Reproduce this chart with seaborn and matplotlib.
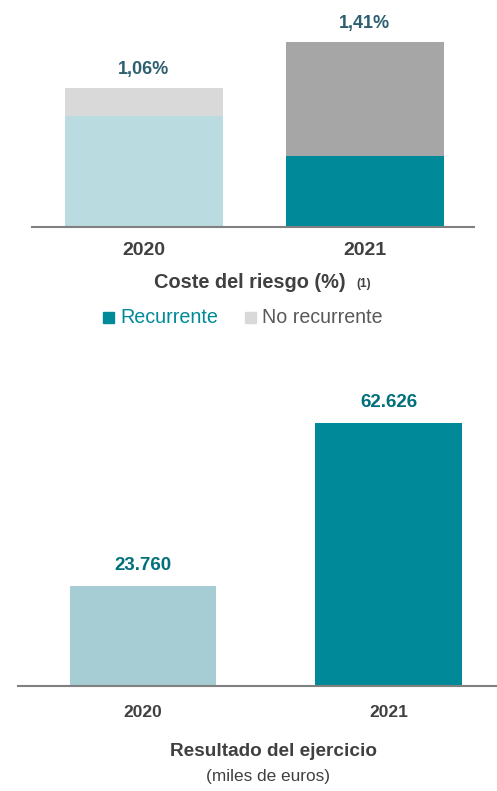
import numpy as np
import pandas as pd
import seaborn as sns
import matplotlib.pyplot as plt

sns.set_theme(style="white")

# data
years = ["2020", "2021"]
coste_recurrente = [0.85, 0.54]
coste_no_recurrente = [0.21, 0.87]
coste_total_labels = ["1,06%", "1,41%"]
resultado = [23760, 62626]
resultado_labels = ["23.760", "62.626"]

plt.rcParams['font.family'] = ["Liberation Sans", "DejaVu Sans"]

teal = "#008A99"
light_teal = "#BADBDF"
gray = "#A6A6A6"
light_gray = "#D9D9D9"
lab_dark = "#2C5F70"
lab_teal = "#00707C"
txt = "#404040"

W, H = 497, 791
fig = plt.figure(figsize=(W / 100, H / 100), dpi=100)

def px_axes(x0, x1, y0, y1):
    return fig.add_axes([x0 / W, 1 - y1 / H, (x1 - x0) / W, (y1 - y0) / H])

# ---- top chart: coste del riesgo
ax1 = px_axes(32, 474, 0, 227)
df1 = pd.DataFrame({"year": years,
                    "total": np.add(coste_recurrente, coste_no_recurrente),
                    "rec": coste_recurrente})
sns.barplot(data=df1, x="year", y="total", hue="year", palette=[light_gray, gray],
            width=0.715, saturation=1, legend=False, linewidth=0, ax=ax1)
sns.barplot(data=df1, x="year", y="rec", hue="year", palette=[light_teal, teal],
            width=0.715, saturation=1, legend=False, linewidth=0, ax=ax1)
ax1.set_xlim(-0.505, 1.495)
ax1.set_ylim(0, 227 / 131)
for i, t in enumerate(df1["total"]):
    ax1.annotate(coste_total_labels[i], (i, t), xytext=(0, 13.5), textcoords="offset points",
                 ha="center", va="center", color=lab_dark, fontsize=13, fontweight="bold")
ax1.set_yticks([])
ax1.set_xlabel("")
ax1.set_ylabel("")
ax1.set_xticks([0, 1])
ax1.set_xticklabels(years, fontsize=14, fontweight="bold", color=txt)
ax1.tick_params(axis="x", length=0, pad=11)
for s in ["top", "left", "right"]:
    ax1.spines[s].set_visible(False)
ax1.spines["bottom"].set_color("#808080")
ax1.spines["bottom"].set_linewidth(1.5)

fig.text(250 / W, 1 - 282 / H, "Coste del riesgo (%)", ha="center", va="center",
         fontsize=14.4, fontweight="bold", color=txt)
fig.text(364 / W, 1 - 284 / H, "(1)", ha="center", va="center",
         fontsize=8.5, fontweight="bold", color=txt)

# legend
fig.patches.append(plt.Rectangle((103 / W, 1 - 323 / H), 11 / W, 11 / H,
                                 transform=fig.transFigure, color=teal, figure=fig))
fig.text(120 / W, 1 - 317 / H, "Recurrente", ha="left", va="center",
         fontsize=14.2, color=teal)
fig.patches.append(plt.Rectangle((245 / W, 1 - 323 / H), 11 / W, 11 / H,
                                 transform=fig.transFigure, color=light_gray, figure=fig))
fig.text(262 / W, 1 - 317 / H, "No recurrente", ha="left", va="center",
         fontsize=14.1, color="#595959")

# ---- bottom chart: resultado del ejercicio
ax2 = px_axes(18, 497, 380, 686)
df2 = pd.DataFrame({"year": years, "valor": resultado})
sns.barplot(data=df2, x="year", y="valor", hue="year", palette=["#A5CDD3", teal],
            width=0.595, saturation=1, legend=False, linewidth=0, ax=ax2)
ax2.set_xlim(-0.509, 1.442)
ax2.set_ylim(0, 62626 * 306 / 263)
for i, v in enumerate(resultado):
    ax2.annotate(resultado_labels[i], (i, v), xytext=(0, 15), textcoords="offset points",
                 ha="center", va="center", color=lab_teal, fontsize=13.5, fontweight="bold")
ax2.set_yticks([])
ax2.set_xlabel("")
ax2.set_ylabel("")
ax2.set_xticks([0, 1])
ax2.set_xticklabels(years, fontsize=12.5, fontweight="bold", color=txt)
ax2.tick_params(axis="x", length=0, pad=14)
for s in ["top", "left", "right"]:
    ax2.spines[s].set_visible(False)
ax2.spines["bottom"].set_color("#808080")
ax2.spines["bottom"].set_linewidth(1.5)

fig.text(274 / W, 1 - 751 / H, "Resultado del ejercicio", ha="center", va="center",
         fontsize=13.7, fontweight="bold", color=txt)
fig.text(268 / W, 1 - 777 / H, "(miles de euros)", ha="center", va="center",
         fontsize=12.4, color=txt)

fig.savefig("out.png", dpi=100)
